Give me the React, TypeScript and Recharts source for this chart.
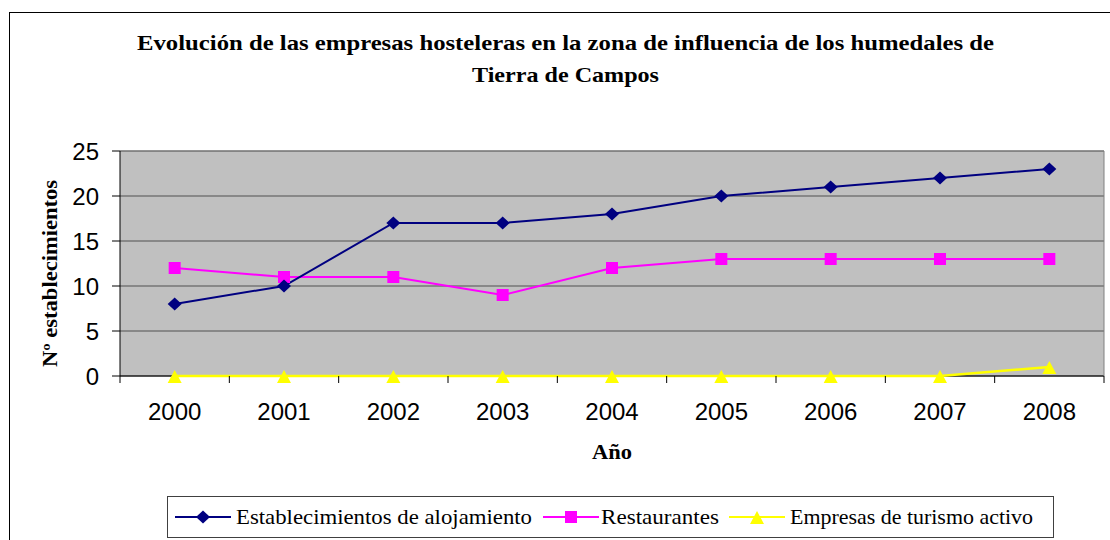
import React from 'react';
import { LineChart, Line, XAxis, YAxis, CartesianGrid, Legend, ReferenceLine } from 'recharts';

const years = ['2000', '2001', '2002', '2003', '2004', '2005', '2006', '2007', '2008'];
const alojamiento = [8, 10, 17, 17, 18, 20, 21, 22, 23];
const restaurantes = [12, 11, 11, 9, 12, 13, 13, 13, 13];
const turismoActivo = [0, 0, 0, 0, 0, 0, 0, 0, 1];
const yTicks = [0, 5, 10, 15, 20, 25];

const seriesNames = ['Establecimientos de alojamiento', 'Restaurantes', 'Empresas de turismo activo'];
const titleLines = ['Evolución de las empresas hosteleras en la zona de influencia de los humedales de', 'Tierra de Campos'];

const data = years.map((y, i) => ({
  year: y,
  alojamiento: alojamiento[i],
  restaurantes: restaurantes[i],
  turismo: turismoActivo[i],
}));

const W = 1110;
const H = 540;
const PLOT_LEFT = 120;
const PLOT_RIGHT = 1104;
const PLOT_W = PLOT_RIGHT - PLOT_LEFT;

const NAVY = '#000080';
const MAGENTA = '#FF00FF';
const YELLOW = '#FFFF00';
const SERIF = '"Liberation Serif", "Times New Roman", serif';
const SANS = '"Liberation Sans", Arial, sans-serif';

const Diamond = (p: any) => {
  const { cx, cy, index } = p;
  if (cx == null || cy == null) return <g key={`d${index}`} />;
  return <polygon key={`d${index}`} points={`${cx},${cy - 6.5} ${cx + 7},${cy} ${cx},${cy + 6.5} ${cx - 7},${cy}`} fill={NAVY} />;
};
const Square = (p: any) => {
  const { cx, cy, index } = p;
  if (cx == null || cy == null) return <g key={`s${index}`} />;
  return <rect key={`s${index}`} x={cx - 6} y={cy - 6} width={12} height={12} fill={MAGENTA} />;
};
const Triangle = (p: any) => {
  const { cx, cy, index } = p;
  if (cx == null || cy == null) return <g key={`t${index}`} />;
  return <polygon key={`t${index}`} points={`${cx},${cy - 6} ${cx + 7},${cy + 7} ${cx - 7},${cy + 7}`} fill={YELLOW} />;
};

const XTick = (props: any) => {
  const { x, y, payload, index } = props;
  const bw = PLOT_W / years.length;
  return (
    <g>
      <line x1={x - bw / 2} x2={x - bw / 2} y1={y} y2={y + 7} stroke="#000" strokeWidth={1} />
      {index === years.length - 1 && (
        <line x1={x + bw / 2} x2={x + bw / 2} y1={y} y2={y + 7} stroke="#000" strokeWidth={1} />
      )}
      <text x={x} y={y + 44} textAnchor="middle" fontSize={24} fontFamily={SANS} fill="#000">
        {payload.value}
      </text>
    </g>
  );
};

const LegendContent = () => {
  const items = [
    { name: seriesNames[0], color: NAVY, lx: 8, tx: 69, tl: 296, marker: 'd' },
    { name: seriesNames[1], color: MAGENTA, lx: 376, tx: 434, tl: 118, marker: 's' },
    { name: seriesNames[2], color: YELLOW, lx: 562, tx: 623, tl: 243, marker: 't' },
  ];
  return (
    <svg width={888} height={43} style={{ display: 'block' }}>
      <rect x={0.5} y={0.5} width={886} height={41} fill="#fff" stroke="#404040" strokeWidth={1} />
      {items.map((it) => {
        const cx = it.lx + 28;
        const cy = 21;
        return (
          <g key={it.name}>
            <line x1={it.lx} x2={it.lx + 56} y1={cy} y2={cy} stroke={it.color} strokeWidth={2} />
            {it.marker === 'd' && <polygon points={`${cx},${cy - 6.5} ${cx + 7},${cy} ${cx},${cy + 6.5} ${cx - 7},${cy}`} fill={NAVY} />}
            {it.marker === 's' && <rect x={cx - 6} y={cy - 6} width={12} height={12} fill={MAGENTA} />}
            {it.marker === 't' && <polygon points={`${cx},${cy - 6} ${cx + 7},${cy + 7} ${cx - 7},${cy + 7}`} fill={YELLOW} />}
            <text x={it.tx} y={cy + 7} fontSize={22} fontFamily={SERIF} fill="#000" textLength={it.tl} lengthAdjust="spacingAndGlyphs">
              {it.name}
            </text>
          </g>
        );
      })}
    </svg>
  );
};

export default function App() {
  return (
    <div style={{ position: 'absolute', left: 0, top: 0, width: W, height: H, background: '#fff', overflow: 'hidden' }}>
      <div style={{ position: 'absolute', left: 9, top: 12, width: W, height: H, border: '1px solid #000', boxSizing: 'border-box' }} />
      <div style={{ position: 'absolute', left: 0, top: 0 }}>
        <LineChart width={W} height={H} data={data} margin={{ top: 151, right: 5, bottom: 104, left: 0 }}>
          <CartesianGrid vertical={false} stroke="#505050" fill="#C0C0C0" fillOpacity={1} />
          <XAxis
            dataKey="year"
            scale="band"
            interval={0}
            height={60}
            tickLine={false}
            tickSize={0}
            tickMargin={0}
            tick={<XTick />}
            axisLine={{ stroke: '#000', strokeWidth: 1 }}
          />
          <YAxis
            domain={[0, 25]}
            ticks={yTicks}
            width={120}
            tickSize={8}
            tickMargin={13}
            tick={{ fontSize: 24, fill: '#000', fontFamily: SANS }}
            axisLine={{ stroke: '#000' }}
            tickLine={{ stroke: '#000' }}
            interval={0}
          />
          <YAxis
            yAxisId="right"
            orientation="right"
            domain={[0, 25]}
            width={1}
            tick={false}
            tickLine={false}
            axisLine={{ stroke: '#808080' }}
          />
          <ReferenceLine y={25} stroke="#808080" />
          <Line type="linear" dataKey="restaurantes" name={seriesNames[1]} stroke={MAGENTA} strokeWidth={2} dot={Square} activeDot={false} isAnimationActive={false} />
          <Line type="linear" dataKey="alojamiento" name={seriesNames[0]} stroke={NAVY} strokeWidth={2} dot={Diamond} activeDot={false} isAnimationActive={false} />
          <Line type="linear" dataKey="turismo" name={seriesNames[2]} stroke={YELLOW} strokeWidth={2.5} dot={Triangle} activeDot={false} isAnimationActive={false} {...({ zIndex: 700 } as any)} />
          <Legend
            layout="horizontal"
            verticalAlign="middle"
            align="center"
            content={<LegendContent />}
            wrapperStyle={{ top: 496, left: 167, width: 888, height: 43 }}
          />
        </LineChart>
      </div>
      <svg width={W} height={H} style={{ position: 'absolute', left: 0, top: 0, pointerEvents: 'none' }}>
        <text x={565.5} y={50} textAnchor="middle" fontSize={22} fontWeight="bold" fontFamily={SERIF} fill="#000" textLength={857} lengthAdjust="spacingAndGlyphs">
          {titleLines[0]}
        </text>
        <text x={565.5} y={82} textAnchor="middle" fontSize={22} fontWeight="bold" fontFamily={SERIF} fill="#000" textLength={187} lengthAdjust="spacingAndGlyphs">
          {titleLines[1]}
        </text>
        <text x={612} y={459} textAnchor="middle" fontSize={20} fontWeight="bold" fontFamily={SERIF} fill="#000" textLength={40} lengthAdjust="spacingAndGlyphs">
          Año
        </text>
        <text transform="translate(57,273.5) rotate(-90)" textAnchor="middle" fontSize={20} fontWeight="bold" fontFamily={SERIF} fill="#000" textLength={187} lengthAdjust="spacingAndGlyphs">
          Nº establecimientos
        </text>
      </svg>
    </div>
  );
}
